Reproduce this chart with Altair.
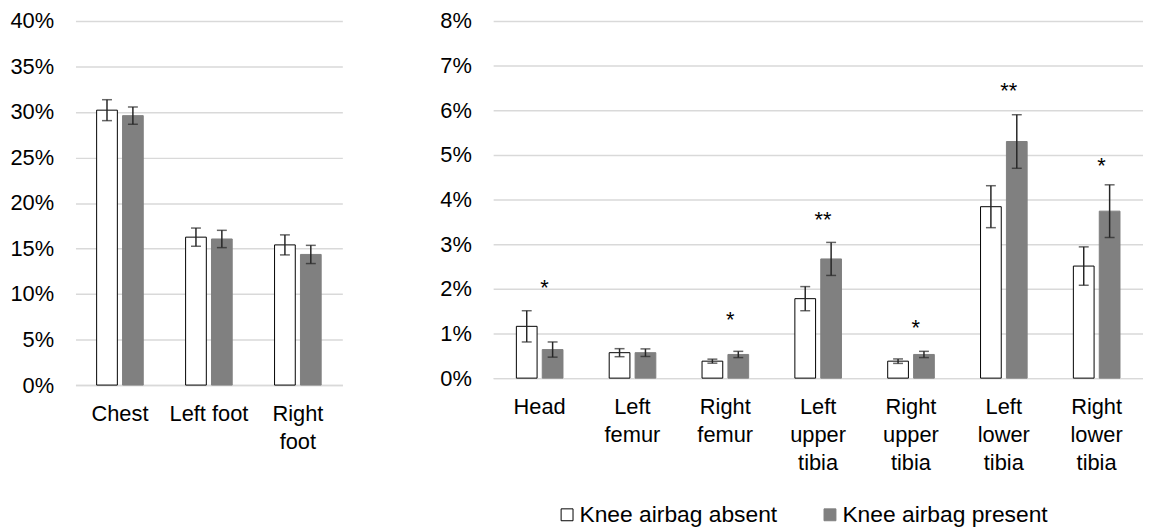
import altair as alt
import pandas as pd

groups = ["Knee airbag absent", "Knee airbag present"]

left_categories = ["Chest", "Left foot", "Right\nfoot"]
left_absent = [30.2, 16.25, 15.4]
left_absent_err = [1.15, 1.0, 1.1]
left_present = [29.6, 16.05, 14.35]
left_present_err = [0.95, 0.95, 1.0]

right_categories = ["Head", "Left\nfemur", "Right\nfemur", "Left\nupper\ntibia",
                    "Right\nupper\ntibia", "Left\nlower\ntibia", "Right\nlower\ntibia"]
right_absent = [1.16, 0.57, 0.38, 1.78, 0.38, 3.84, 2.51]
right_absent_err = [0.35, 0.09, 0.045, 0.27, 0.05, 0.47, 0.43]
right_present = [0.64, 0.57, 0.53, 2.67, 0.53, 5.30, 3.74]
right_present_err = [0.17, 0.085, 0.07, 0.37, 0.07, 0.60, 0.59]
right_stars = ["*", "", "*", "**", "*", "**", "*"]
right_star_y = [2.07, None, 1.35, 3.59, 1.16, 6.48, 4.79]

left_ticks = [0, 5, 10, 15, 20, 25, 30, 35, 40]
right_ticks = [0, 1, 2, 3, 4, 5, 6, 7, 8]

FONT = "Liberation Sans"
GRID = "#d9d9d9"
ERR = "#262626"


def table(cats, absent, absent_err, present, present_err):
    rows = []
    for c, v, e in zip(cats, absent, absent_err):
        rows.append({"part": c, "group": groups[0], "value": v, "lo": v - e, "hi": v + e})
    for c, v, e in zip(cats, present, present_err):
        rows.append({"part": c, "group": groups[1], "value": v, "lo": v - e, "hi": v + e})
    return pd.DataFrame(rows)


def panel(df, cats, ticks, w, h, pad_inner, stars=None):
    xax = alt.Axis(labelAngle=0, labelExpr="split(datum.label, '\\n')", ticks=False,
                   domainColor=GRID, domainWidth=1.5, labelPadding=19,
                   labelFontSize=22, labelLineHeight=28, labelColor="black",
                   labelFont=FONT, title=None)
    x = alt.X("part:N", sort=cats, title=None,
              scale=alt.Scale(paddingInner=pad_inner, paddingOuter=pad_inner / 2), axis=xax)
    xo = alt.XOffset("group:N", sort=groups, scale=alt.Scale(paddingInner=0.2))
    yax = alt.Axis(values=ticks, labelExpr="datum.value + '%'", grid=True, gridColor=GRID,
                   gridWidth=1.5, domain=False, ticks=False, labelPadding=22,
                   labelFontSize=22, labelColor="black", labelFont=FONT, title=None)
    ys = alt.Scale(domain=[ticks[0], ticks[-1]], nice=False)

    def Y(f):
        return alt.Y(f, scale=ys, axis=yax, title=None)

    base = alt.Chart(df)
    bars = base.mark_bar(strokeWidth=1).encode(
        x=x, xOffset=xo, y=Y("value:Q"),
        fill=alt.Fill("group:N", sort=groups, title=None,
                      scale=alt.Scale(domain=groups, range=["white", "#808080"])),
        stroke=alt.Stroke("group:N", sort=groups, title=None,
                          scale=alt.Scale(domain=groups, range=["black", "#808080"])),
    )
    rule = base.mark_rule(color=ERR, strokeWidth=1.5).encode(
        x=x, xOffset=xo, y=Y("lo:Q"), y2="hi:Q")
    cap_hi = base.mark_tick(color=ERR, thickness=1.5, size=10).encode(
        x=x, xOffset=xo, y=Y("hi:Q"))
    cap_lo = base.mark_tick(color=ERR, thickness=1.5, size=10).encode(
        x=x, xOffset=xo, y=Y("lo:Q"))
    layers = [bars, rule, cap_hi, cap_lo]
    if stars is not None:
        st = alt.Chart(stars).mark_text(fontSize=22, font=FONT, color="black",
                                        baseline="alphabetic", dx=5, dy=9).encode(
            x=x, y=Y("y:Q"), text="star:N")
        layers.append(st)
    return alt.layer(*layers).properties(width=w, height=h)


left_df = table(left_categories, left_absent, left_absent_err, left_present, left_present_err)
right_df = table(right_categories, right_absent, right_absent_err, right_present, right_present_err)
stars_df = pd.DataFrame({"part": right_categories, "star": right_stars, "y": right_star_y}).dropna()

left = panel(left_df, left_categories, left_ticks, 269, 367, 0.476)
right = panel(right_df, right_categories, right_ticks, 655, 360, 0.5, stars_df)

chart = alt.hconcat(left, right, spacing=98).properties(
    padding={"left": 1, "top": 0, "right": 0, "bottom": 0}
).configure_view(stroke=None).configure_legend(
    orient="none", legendX=484, legendY=486, direction="horizontal",
    symbolType="square", symbolSize=144, symbolStrokeWidth=1, labelOffset=1,
    labelFontSize=23, labelFont=FONT, labelColor="black", columnPadding=41,
    labelLimit=0, title=None,
)

chart.save("out.html", embed_options={"renderer": "svg", "actions": False})
